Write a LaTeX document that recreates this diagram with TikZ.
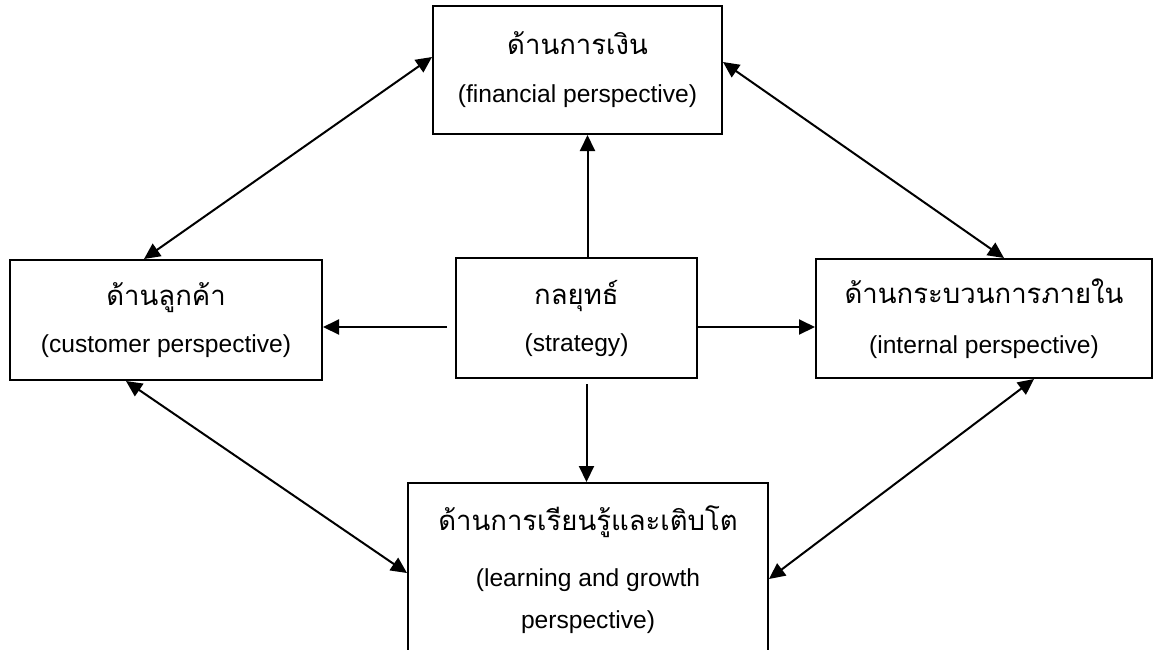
\documentclass[tikz,border=0pt]{standalone}
\usepackage{fontspec}
\setmainfont{Liberation Sans}
\newfontfamily\thaifont[Script=Thai]{Loma}
\usetikzlibrary{arrows.meta}
\newcommand{\thtext}[1]{{\thaifont\fontsize{27.5}{27.5}\selectfont #1}}

\begin{document}
\begin{tikzpicture}[x=1pt,y=1pt,
  box/.style={draw=black,line width=2pt,align=center,inner sep=0pt,font=\fontsize{24.6}{42}\selectfont},
  tip/.style={line width=2pt,-{Triangle[length=16pt,width=15pt]}},
  both/.style={line width=2pt,{Triangle[length=16pt,width=15pt]}-{Triangle[length=16pt,width=15pt]}}]
\useasboundingbox (0,0) rectangle (1154,-649);
\node [box,minimum width=289,minimum height=128] (fin) at (577.5,-70) {\thtext{ด้านการเงิน}\\[6pt](financial perspective)};
\node [box,minimum width=312,minimum height=120] (cust) at (166,-320) {\thtext{ด้านลูกค้า}\\[5pt](customer perspective)};
\node [box,minimum width=241,minimum height=120] (strat) at (576.5,-318) {\thtext{กลยุทธ์}\\[5pt](strategy)};
\node [box,minimum width=336,minimum height=119] (intl) at (984,-318.5) {\thtext{ด้านกระบวนการภายใน}\\[8pt](internal perspective)};
\node [box,minimum width=360,minimum height=174,anchor=north] (learn) at (588,-482) {\thtext{ด้านการเรียนรู้และเติบโต}\\[14pt](learning and growth\\perspective)};
\coordinate (up) at ([xshift=11pt]strat.north);
\coordinate (dn) at ([xshift=10pt,yshift=-5pt]strat.south);
\coordinate (lf) at ([xshift=-8pt,yshift=-9pt]strat.west);
\coordinate (rt) at ([yshift=-9pt]strat.east);
\draw [tip] (up) -- (up |- fin.south);
\draw [tip] (dn) -- (dn |- learn.north);
\draw [tip] (lf) -- (lf -| cust.east);
\draw [tip] (rt) -- (rt -| intl.west);
\draw [both] ([xshift=135pt]cust.north west) -- ([yshift=-52pt]fin.north west);
\draw [both] ([yshift=-57pt]fin.north east) -- ([xshift=189pt]intl.north west);
\draw [both] ([xshift=117pt]cust.south west) -- ([yshift=-91pt]learn.north west);
\draw [both] ([xshift=219pt]intl.south west) -- ([yshift=-97pt]learn.north east);
\end{tikzpicture}
\end{document}
